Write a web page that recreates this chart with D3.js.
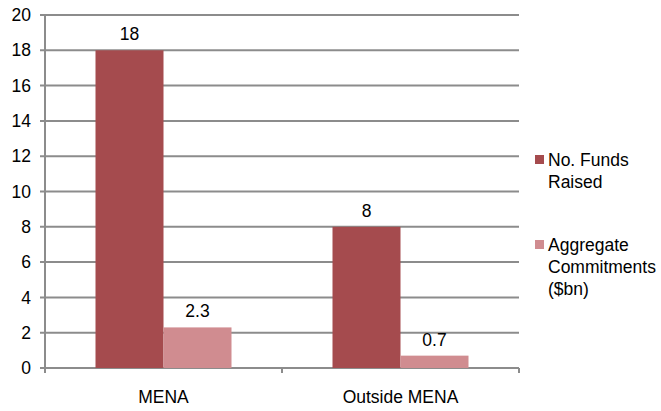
<!DOCTYPE html>
<html>
<head>
<meta charset="utf-8">
<script src="https://cdn.jsdelivr.net/npm/d3@7"></script>
<style>
  body { margin: 0; background: #fff; }
  text { font-family: "Liberation Sans", Arial, sans-serif; fill: #000; }
</style>
</head>
<body>
<svg class="chart"></svg>
<script>
// chart data
var categories = ["MENA", "Outside MENA"];
var seriesNames = ["No. Funds Raised", "Aggregate Commitments ($bn)"];
var fundsRaised = [18, 8];
var commitments = [2.3, 0.7];
var valueLabels = [["18", "2.3"], ["8", "0.7"]];
var yTicks = [0, 2, 4, 6, 8, 10, 12, 14, 16, 18, 20];
var colors = ["#A54B4E", "#D08C90"];

var width = 661,
    height = 411,
    fontSize = "17.5px";

// plot area edges
var plotLeft = 45, plotRight = 519, plotTop = 15, plotBottom = 368;

var svg = d3.select(".chart")
    .attr("width", width)
    .attr("height", height);

var x = d3.scaleBand()
    .domain(categories)
    .range([plotLeft, plotRight]);

var inner = d3.scaleBand()
    .domain(seriesNames)
    .range([0, 136]);

var y = d3.scaleLinear()
    .domain([0, 20])
    .range([plotBottom, plotTop]);

// gridlines
svg.selectAll("line.grid")
    .data(yTicks).enter()
    .append("line")
    .attr("class", "grid")
    .attr("x1", plotLeft - 5)
    .attr("x2", plotRight)
    .attr("y1", function(d) { return y(d); })
    .attr("y2", function(d) { return y(d); })
    .attr("stroke", "#8c8c8c")
    .attr("stroke-width", 2);

// y axis line
svg.append("line")
    .attr("x1", plotLeft).attr("x2", plotLeft)
    .attr("y1", plotTop).attr("y2", plotBottom)
    .attr("stroke", "#8c8c8c")
    .attr("stroke-width", 2);

// x tick marks
var xTickPos = [plotLeft, plotLeft + x.bandwidth(), plotRight];
svg.selectAll("line.xtick")
    .data(xTickPos).enter()
    .append("line")
    .attr("class", "xtick")
    .attr("x1", function(d) { return d; })
    .attr("x2", function(d) { return d; })
    .attr("y1", plotBottom)
    .attr("y2", plotBottom + 5)
    .attr("stroke", "#8c8c8c")
    .attr("stroke-width", 2);

// y tick labels
svg.selectAll("text.ylab")
    .data(yTicks).enter()
    .append("text")
    .attr("class", "ylab")
    .attr("x", plotLeft - 14)
    .attr("y", function(d) { return y(d); })
    .attr("dy", "0.35em")
    .attr("text-anchor", "end")
    .style("font-size", fontSize)
    .text(function(d) { return d; });

// x category labels
svg.selectAll("text.xlab")
    .data(categories).enter()
    .append("text")
    .attr("class", "xlab")
    .attr("x", function(d) { return x(d) + x.bandwidth() / 2; })
    .attr("y", plotBottom + 35)
    .attr("text-anchor", "middle")
    .style("font-size", fontSize)
    .text(function(d) { return d; });

// bars
var groups = svg.selectAll("g.cat")
    .data(categories).enter()
    .append("g")
    .attr("class", "cat")
    .attr("transform", function(d) {
        return "translate(" + (x(d) + (x.bandwidth() - 136) / 2) + ",0)";
    });

groups.each(function(cat, i) {
    var vals = [fundsRaised[i], commitments[i]];
    var g = d3.select(this);
    g.selectAll("rect")
        .data(vals).enter()
        .append("rect")
        .attr("x", function(d, j) { return inner(seriesNames[j]); })
        .attr("y", function(d) { return y(d); })
        .attr("width", inner.bandwidth())
        .attr("height", function(d) { return y(0) - y(d); })
        .attr("fill", function(d, j) { return colors[j]; });
    g.selectAll("text")
        .data(vals).enter()
        .append("text")
        .attr("x", function(d, j) { return inner(seriesNames[j]) + inner.bandwidth() / 2; })
        .attr("y", function(d) { return y(d) - 10; })
        .attr("text-anchor", "middle")
        .style("font-size", fontSize)
        .text(function(d, j) { return valueLabels[i][j]; });
});

// legend
var legendLines = [["No. Funds", "Raised"], ["Aggregate", "Commitments", "($bn)"]];
var legendTop = [160, 245];
legendLines.forEach(function(lines, i) {
    svg.append("rect")
        .attr("x", 535)
        .attr("y", legendTop[i] - 5)
        .attr("width", 9)
        .attr("height", 9)
        .attr("fill", colors[i]);
    lines.forEach(function(t, k) {
        svg.append("text")
            .attr("x", 548)
            .attr("y", legendTop[i] + k * 22)
            .attr("dy", "0.35em")
            .style("font-size", fontSize)
            .text(t);
    });
});
</script>
</body>
</html>
